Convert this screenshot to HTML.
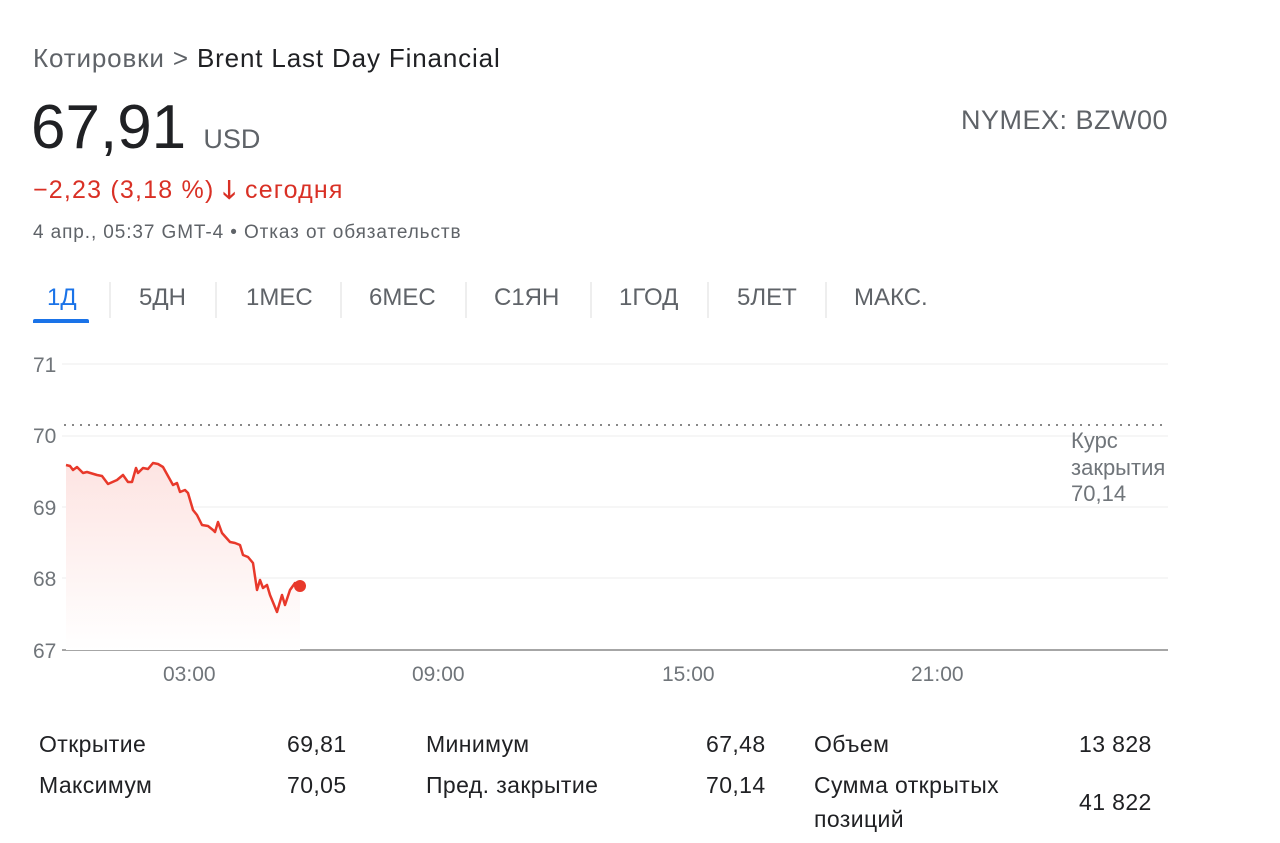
<!DOCTYPE html>
<html><head><meta charset="utf-8"><style>
body{margin:0;background:#fff;font-family:"Liberation Sans",Arial,sans-serif;width:1280px;height:843px;overflow:hidden;position:relative}
.a{position:absolute;white-space:nowrap}
</style></head><body>
<div class="a" style="left:33px;top:43px;font-size:26px;letter-spacing:0.85px;color:#5f6368">Котировки &gt; <span style="color:#202124">Brent Last Day Financial</span></div>
<div class="a" style="left:31px;top:92px;font-size:62px;color:#202124">67,91 <span style="font-size:27px;color:#5f6368">USD</span></div>
<div class="a" style="left:961px;top:105px;font-size:27px;letter-spacing:0.5px;color:#5f6368">NYMEX: BZW00</div>
<div class="a" style="left:33px;top:171px;font-size:25px;letter-spacing:1.2px;color:#d93025">−2,23 (3,18 %) <span style="font-weight:bold">🡓</span> сегодня</div>
<div class="a" style="left:33px;top:222px;font-size:19px;letter-spacing:0.9px;color:#5f6368">4 апр., 05:37 GMT-4 • Отказ от обязательств</div>
<div class="a" style="top:284px;left:0;font-size:24px;color:#5f6368;width:1280px">
<span class="a" style="left:47px;color:#1a73e8">1Д</span>
<span class="a" style="left:139px">5ДН</span>
<span class="a" style="left:246px">1МЕС</span>
<span class="a" style="left:369px">6МЕС</span>
<span class="a" style="left:494px">С1ЯН</span>
<span class="a" style="left:619px">1ГОД</span>
<span class="a" style="left:737px">5ЛЕТ</span>
<span class="a" style="left:854px">МАКС.</span>
</div>
<div class="a" style="left:33px;top:319px;width:56px;height:4px;background:#1a73e8;border-radius:2px 2px 0 0"></div>
<svg class="a" style="left:0;top:0" width="1280" height="843">
<g stroke="#ddd" stroke-width="1">
<line x1="110" y1="282" x2="110" y2="318"/><line x1="216" y1="282" x2="216" y2="318"/><line x1="341" y1="282" x2="341" y2="318"/><line x1="466" y1="282" x2="466" y2="318"/><line x1="591" y1="282" x2="591" y2="318"/><line x1="708" y1="282" x2="708" y2="318"/><line x1="826" y1="282" x2="826" y2="318"/>
</g>
<g stroke="#eee"><line x1="62" y1="364" x2="1168" y2="364"/><line x1="62" y1="436" x2="1168" y2="436"/><line x1="62" y1="507" x2="1168" y2="507"/><line x1="62" y1="578" x2="1168" y2="578"/></g>
<line x1="62" y1="650" x2="1168" y2="650" stroke="#888" stroke-width="1.5"/>
<line x1="64" y1="425" x2="1168" y2="425" stroke="#888" stroke-width="2" stroke-dasharray="2,6"/>
<g font-size="21" fill="#70757a"><text x="33" y="372">71</text><text x="33" y="443">70</text><text x="33" y="515">69</text><text x="33" y="586">68</text><text x="33" y="658">67</text>
<text x="163" y="681">03:00</text><text x="412" y="681">09:00</text><text x="662" y="681">15:00</text><text x="911" y="681">21:00</text></g>
<g font-size="22" fill="#70757a"><text x="1071" y="448">Курс</text><text x="1071" y="475">закрытия</text><text x="1071" y="501">70,14</text></g>
<defs><linearGradient id="g" x1="0" y1="0" x2="0" y2="1"><stop offset="0" stop-color="#fde4e2"/><stop offset="1" stop-color="#fff"/></linearGradient></defs>
<path d="M66,465 L70,466 73,470 77,467 83,473 87,472 97,475 102,476 108,484 117,480 123,475 128,482 132,482 136,468 138,473 143,468 148,469 153,463 158,464 163,467 173,485 177,483 180,492 185,490 188,493 193,510 197,515 202,525 208,526 213,530 215,532 218,522 222,533 230,542 235,543 240,545 243,555 248,557 253,563 257,590 260,580 263,588 267,585 270,595 277,612 282,595 285,605 290,590 295,583 300,586 L300,650 L66,650Z" fill="url(#g)"/>
<polyline fill="none" stroke="#e8392b" stroke-width="2.5" stroke-linejoin="round" points="66,465 70,466 73,470 77,467 83,473 87,472 97,475 102,476 108,484 117,480 123,475 128,482 132,482 136,468 138,473 143,468 148,469 153,463 158,464 163,467 173,485 177,483 180,492 185,490 188,493 193,510 197,515 202,525 208,526 213,530 215,532 218,522 222,533 230,542 235,543 240,545 243,555 248,557 253,563 257,590 260,580 263,588 267,585 270,595 277,612 282,595 285,605 290,590 295,583 300,586"/>
<circle cx="300" cy="586" r="6" fill="#e8392b"/>
</svg>
<div class="a" style="top:726px;left:0;font-size:23px;letter-spacing:0.4px;color:#202124;width:1280px;line-height:36px">
<span class="a" style="left:39px">Открытие</span><span class="a" style="left:287px">69,81</span>
<span class="a" style="left:426px">Минимум</span><span class="a" style="left:706px">67,48</span>
<span class="a" style="left:814px">Объем</span><span class="a" style="left:1079px">13 828</span>
</div>
<div class="a" style="top:767px;left:0;font-size:23px;letter-spacing:0.4px;color:#202124;width:1280px;line-height:36px">
<span class="a" style="left:39px">Максимум</span><span class="a" style="left:287px">70,05</span>
<span class="a" style="left:426px">Пред. закрытие</span><span class="a" style="left:706px">70,14</span>
<span class="a" style="left:814px">Сумма открытых</span><span class="a" style="left:814px;top:34px">позиций</span><span class="a" style="left:1079px;top:17px">41 822</span>
</div>
</body></html>
